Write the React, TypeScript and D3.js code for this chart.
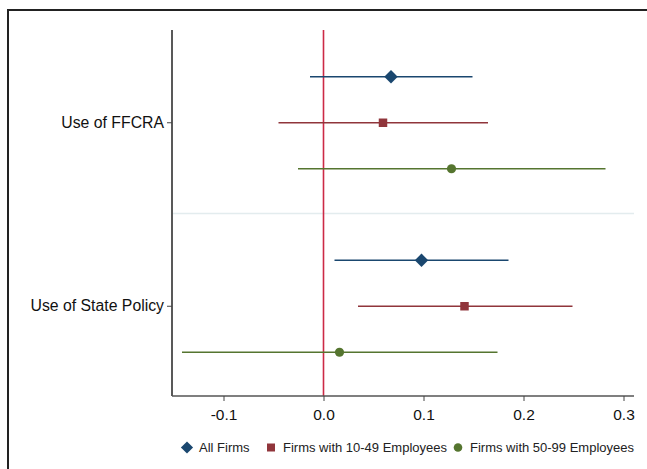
import React, { useEffect, useRef } from 'react';
import * as d3 from 'd3';

// outcomes on the y axis
const outcomes = ['Use of FFCRA', 'Use of State Policy'];
// firm groups (legend order)
const groups = ['All Firms', 'Firms with 10-49 Employees', 'Firms with 50-99 Employees'];
// point estimates, one array per outcome, in group order
const estFFCRA = [0.0675, 0.0595, 0.128];
const estState = [0.098, 0.141, 0.016];
// confidence interval bounds
const loFFCRA = [-0.0135, -0.045, -0.0255];
const hiFFCRA = [0.149, 0.1645, 0.282];
const loState = [0.011, 0.0345, -0.1415];
const hiState = [0.185, 0.249, 0.174];
const xTicks = [-0.1, 0, 0.1, 0.2, 0.3];

const colors = ['#1a476f', '#90353b', '#55752f'];
const shapes = [d3.symbolDiamond2, d3.symbolSquare, d3.symbolCircle];
const font = 'Arial, "Liberation Sans", sans-serif';

const App: React.FC = () => {
  const ref = useRef<SVGSVGElement | null>(null);

  useEffect(() => {
    if (!ref.current) return;
    const W = 647, H = 469;
    const svg = d3.select(ref.current);
    svg.selectAll('*').remove();

    // outer frame (only top/left visible in the crop)
    svg.append('rect')
      .attr('x', 8).attr('y', 10).attr('width', W + 20).attr('height', H + 20)
      .attr('fill', 'white').attr('stroke', '#222').attr('stroke-width', 2);

    const left = 172, right = 634, top = 30, bottom = 396;

    const x = d3.scaleLinear().domain([-0.1, 0.3]).range([223.5, 623.5]);
    const y = d3.scaleBand().domain(outcomes).range([31, 398]).padding(0);
    const offset = 46;

    const rows = [
      { est: estFFCRA, lo: loFFCRA, hi: hiFFCRA },
      { est: estState, lo: loState, hi: hiState },
    ];

    // separator between outcome groups
    svg.append('line')
      .attr('x1', left + 1).attr('x2', right)
      .attr('y1', 213.5).attr('y2', 213.5)
      .attr('stroke', '#e3ecee').attr('stroke-width', 1.3);

    // zero reference line
    svg.append('line')
      .attr('x1', x(0)).attr('x2', x(0)).attr('y1', top).attr('y2', bottom)
      .attr('stroke', '#cc2a46').attr('stroke-width', 1.6);

    rows.forEach((r, i) => {
      const cy = (y(outcomes[i]) as number) + y.bandwidth() / 2;
      groups.forEach((_, g) => {
        const yy = cy + (g - 1) * offset;
        svg.append('line')
          .attr('x1', x(r.lo[g])).attr('x2', x(r.hi[g]))
          .attr('y1', yy).attr('y2', yy)
          .attr('stroke', colors[g]).attr('stroke-width', 1.7);
        svg.append('path')
          .attr('d', d3.symbol().type(shapes[g]).size(g === 0 ? 115 : g === 1 ? 72 : 66)())
          .attr('transform', `translate(${x(r.est[g])},${yy})`)
          .attr('fill', colors[g]);
      });
    });

    // y axis
    const yAxis = svg.append('g').attr('transform', `translate(${left},0)`)
      .call(d3.axisLeft(y).tickSize(5).tickPadding(3));
    yAxis.select('.domain').attr('d', `M0,${top}V${bottom}`).attr('stroke', '#222').attr('stroke-width', 1.5);
    yAxis.selectAll('.tick line').attr('stroke', '#444');
    yAxis.selectAll('.tick text')
      .attr('font-family', font).attr('font-size', 15.8).attr('fill', '#111');

    // x axis
    const xAxis = svg.append('g').attr('transform', `translate(0,${bottom})`)
      .call(d3.axisBottom(x).tickValues(xTicks).tickSize(5).tickPadding(8)
        .tickFormat(d => (d as number).toFixed(1)));
    xAxis.select('.domain').attr('d', `M${left},0H${right}`).attr('stroke', '#555').attr('stroke-width', 1.5);
    xAxis.selectAll('.tick line').attr('stroke', '#444');
    xAxis.selectAll('.tick text')
      .attr('font-family', font).attr('font-size', 15.5).attr('fill', '#111');

    // legend
    const legendX = [187, 271, 458];
    const legY = 447.5;
    groups.forEach((name, g) => {
      svg.append('path')
        .attr('d', d3.symbol().type(shapes[g]).size(g === 0 ? 95 : g === 1 ? 64 : 58)())
        .attr('transform', `translate(${legendX[g]},${legY})`)
        .attr('fill', colors[g]);
      svg.append('text')
        .attr('x', legendX[g] + 12).attr('y', legY).attr('dy', '0.35em')
        .attr('font-family', font).attr('font-size', 13).attr('fill', '#222')
        .text(name);
    });
  }, []);

  return <svg ref={ref} width={647} height={469} style={{ position: 'absolute', left: 0, top: 0 }} />;
};

export default App;
